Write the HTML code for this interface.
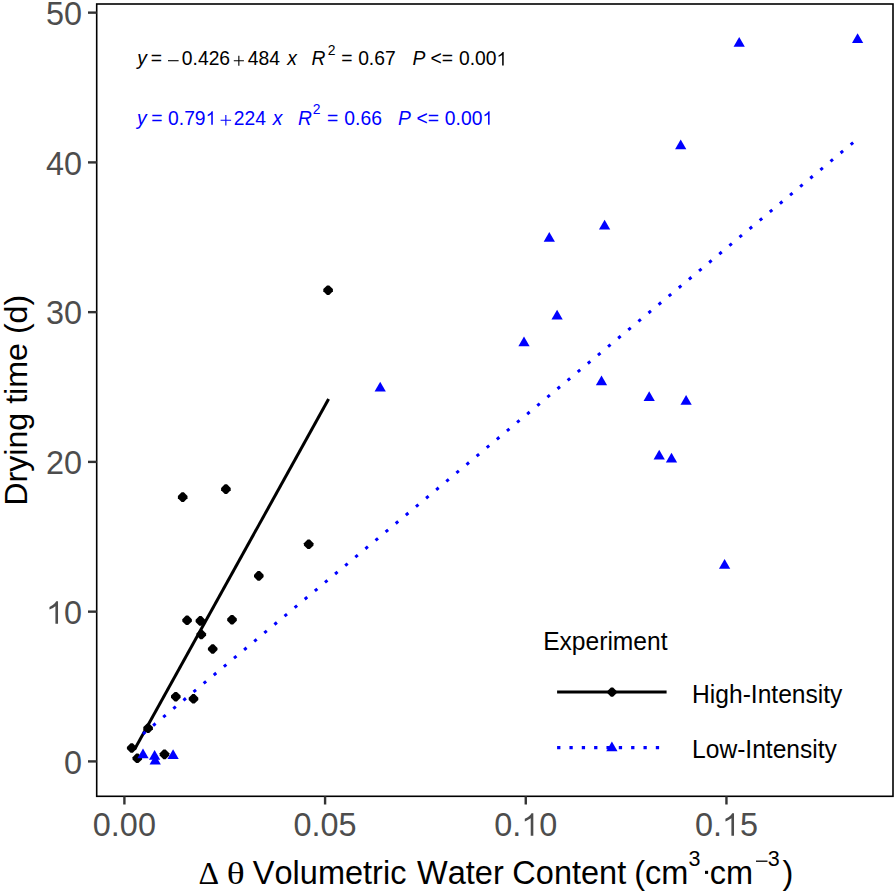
<!DOCTYPE html>
<html><head><meta charset="utf-8"><style>
html,body{margin:0;padding:0;background:#fff;}
svg{display:block;}
text{font-family:"Liberation Sans",sans-serif;font-kerning:none;}
.tk{font-size:32.4px;fill:#4d4d4d;}
.ti{font-size:32.2px;fill:#000;}
</style></head><body>
<svg width="896" height="893" viewBox="0 0 896 893">
<rect x="0" y="0" width="896" height="893" fill="#fff"/>
<path d="M132.80,743.20L136.50,746.90L136.50,749.10L132.80,752.80L130.60,752.80L126.90,749.10L126.90,746.90L130.60,743.20Z" fill="#000"/>
<path d="M138.40,753.50L142.10,757.20L142.10,759.40L138.40,763.10L136.20,763.10L132.50,759.40L132.50,757.20L136.20,753.50Z" fill="#000"/>
<path d="M149.20,723.40L152.90,727.10L152.90,729.30L149.20,733.00L147.00,733.00L143.30,729.30L143.30,727.10L147.00,723.40Z" fill="#000"/>
<path d="M165.60,749.60L169.30,753.30L169.30,755.50L165.60,759.20L163.40,759.20L159.70,755.50L159.70,753.30L163.40,749.60Z" fill="#000"/>
<path d="M176.90,691.90L180.60,695.60L180.60,697.80L176.90,701.50L174.70,701.50L171.00,697.80L171.00,695.60L174.70,691.90Z" fill="#000"/>
<path d="M194.60,694.00L198.30,697.70L198.30,699.90L194.60,703.60L192.40,703.60L188.70,699.90L188.70,697.70L192.40,694.00Z" fill="#000"/>
<path d="M188.20,615.50L191.90,619.20L191.90,621.40L188.20,625.10L186.00,625.10L182.30,621.40L182.30,619.20L186.00,615.50Z" fill="#000"/>
<path d="M201.50,616.10L205.20,619.80L205.20,622.00L201.50,625.70L199.30,625.70L195.60,622.00L195.60,619.80L199.30,616.10Z" fill="#000"/>
<path d="M202.40,629.70L206.10,633.40L206.10,635.60L202.40,639.30L200.20,639.30L196.50,635.60L196.50,633.40L200.20,629.70Z" fill="#000"/>
<path d="M213.80,644.20L217.50,647.90L217.50,650.10L213.80,653.80L211.60,653.80L207.90,650.10L207.90,647.90L211.60,644.20Z" fill="#000"/>
<path d="M233.10,614.90L236.80,618.60L236.80,620.80L233.10,624.50L230.90,624.50L227.20,620.80L227.20,618.60L230.90,614.90Z" fill="#000"/>
<path d="M183.80,492.30L187.50,496.00L187.50,498.20L183.80,501.90L181.60,501.90L177.90,498.20L177.90,496.00L181.60,492.30Z" fill="#000"/>
<path d="M227.00,484.30L230.70,488.00L230.70,490.20L227.00,493.90L224.80,493.90L221.10,490.20L221.10,488.00L224.80,484.30Z" fill="#000"/>
<path d="M259.90,571.10L263.60,574.80L263.60,577.00L259.90,580.70L257.70,580.70L254.00,577.00L254.00,574.80L257.70,571.10Z" fill="#000"/>
<path d="M309.80,539.50L313.50,543.20L313.50,545.40L309.80,549.10L307.60,549.10L303.90,545.40L303.90,543.20L307.60,539.50Z" fill="#000"/>
<path d="M329.20,285.40L332.90,289.10L332.90,291.30L329.20,295.00L327.00,295.00L323.30,291.30L323.30,289.10L327.00,285.40Z" fill="#000"/>
<path d="M143.00,748.50L148.63,758.25L137.37,758.25Z" fill="#00f"/>
<path d="M154.60,750.10L160.23,759.85L148.97,759.85Z" fill="#00f"/>
<path d="M155.20,754.70L160.83,764.45L149.57,764.45Z" fill="#00f"/>
<path d="M173.10,749.30L178.73,759.05L167.47,759.05Z" fill="#00f"/>
<path d="M380.20,381.80L385.83,391.55L374.57,391.55Z" fill="#00f"/>
<path d="M549.30,232.00L554.93,241.75L543.67,241.75Z" fill="#00f"/>
<path d="M604.60,219.70L610.23,229.45L598.97,229.45Z" fill="#00f"/>
<path d="M557.10,309.80L562.73,319.55L551.47,319.55Z" fill="#00f"/>
<path d="M524.00,336.60L529.63,346.35L518.37,346.35Z" fill="#00f"/>
<path d="M601.50,375.40L607.13,385.15L595.87,385.15Z" fill="#00f"/>
<path d="M649.20,391.20L654.83,400.95L643.57,400.95Z" fill="#00f"/>
<path d="M686.10,395.00L691.73,404.75L680.47,404.75Z" fill="#00f"/>
<path d="M659.20,449.80L664.83,459.55L653.57,459.55Z" fill="#00f"/>
<path d="M671.50,452.80L677.13,462.55L665.87,462.55Z" fill="#00f"/>
<path d="M739.20,36.90L744.83,46.65L733.57,46.65Z" fill="#00f"/>
<path d="M680.70,139.40L686.33,149.15L675.07,149.15Z" fill="#00f"/>
<path d="M724.60,559.10L730.23,568.85L718.97,568.85Z" fill="#00f"/>
<path d="M857.60,33.30L863.23,43.05L851.97,43.05Z" fill="#00f"/>
<line x1="134.5" y1="749.54" x2="328.6" y2="399.04" stroke="#000" stroke-width="3.0"/>
<line x1="143.0" y1="733.98" x2="857.6" y2="138.86" stroke="#00f" stroke-width="3.0" stroke-dasharray="3.2 9.957"/>
<rect x="96.7" y="4.0" width="796.30" height="792.30" fill="none" stroke="#000" stroke-width="1.6"/>
<line x1="88" y1="761.40" x2="96.7" y2="761.40" stroke="#333" stroke-width="2.4"/>
<text x="63.98" y="773.60" style="font-family:'Liberation Sans',sans-serif;font-size:32.4px;" fill="#4d4d4d">0</text>
<line x1="88" y1="611.65" x2="96.7" y2="611.65" stroke="#333" stroke-width="2.4"/>
<path transform="translate(45.96,623.85) scale(0.01582,-0.01582)" d="M763,0L598,0L598,1114Q518,1054 465,1024Q412,994 359,964Q306,934 222,903L222,1072Q373,1141 429.5,1191Q486,1240 542.5,1289Q599,1338 646,1430L763,1430Z" fill="#4d4d4d"/><text x="63.98" y="623.85" style="font-family:'Liberation Sans',sans-serif;font-size:32.4px;" fill="#4d4d4d">0</text>
<line x1="88" y1="461.90" x2="96.7" y2="461.90" stroke="#333" stroke-width="2.4"/>
<text x="45.96" y="474.10" style="font-family:'Liberation Sans',sans-serif;font-size:32.4px;" fill="#4d4d4d">20</text>
<line x1="88" y1="312.15" x2="96.7" y2="312.15" stroke="#333" stroke-width="2.4"/>
<text x="45.96" y="324.35" style="font-family:'Liberation Sans',sans-serif;font-size:32.4px;" fill="#4d4d4d">30</text>
<line x1="88" y1="162.40" x2="96.7" y2="162.40" stroke="#333" stroke-width="2.4"/>
<text x="45.96" y="174.60" style="font-family:'Liberation Sans',sans-serif;font-size:32.4px;" fill="#4d4d4d">40</text>
<line x1="88" y1="12.65" x2="96.7" y2="12.65" stroke="#333" stroke-width="2.4"/>
<text x="45.96" y="24.85" style="font-family:'Liberation Sans',sans-serif;font-size:32.4px;" fill="#4d4d4d">50</text>
<line x1="124.40" y1="796.3" x2="124.40" y2="804.5" stroke="#333" stroke-width="2.4"/>
<text x="92.87" y="835.80" style="font-family:'Liberation Sans',sans-serif;font-size:32.4px;" fill="#4d4d4d">0.00</text>
<line x1="325.09" y1="796.3" x2="325.09" y2="804.5" stroke="#333" stroke-width="2.4"/>
<text x="293.56" y="835.80" style="font-family:'Liberation Sans',sans-serif;font-size:32.4px;" fill="#4d4d4d">0.05</text>
<line x1="525.77" y1="796.3" x2="525.77" y2="804.5" stroke="#333" stroke-width="2.4"/>
<text x="494.24" y="835.80" style="font-family:'Liberation Sans',sans-serif;font-size:32.4px;" fill="#4d4d4d">0.</text><path transform="translate(521.26,835.80) scale(0.01582,-0.01582)" d="M763,0L598,0L598,1114Q518,1054 465,1024Q412,994 359,964Q306,934 222,903L222,1072Q373,1141 429.5,1191Q486,1240 542.5,1289Q599,1338 646,1430L763,1430Z" fill="#4d4d4d"/><text x="539.28" y="835.80" style="font-family:'Liberation Sans',sans-serif;font-size:32.4px;" fill="#4d4d4d">0</text>
<line x1="726.45" y1="796.3" x2="726.45" y2="804.5" stroke="#333" stroke-width="2.4"/>
<text x="694.93" y="835.80" style="font-family:'Liberation Sans',sans-serif;font-size:32.4px;" fill="#4d4d4d">0.</text><path transform="translate(721.95,835.80) scale(0.01582,-0.01582)" d="M763,0L598,0L598,1114Q518,1054 465,1024Q412,994 359,964Q306,934 222,903L222,1072Q373,1141 429.5,1191Q486,1240 542.5,1289Q599,1338 646,1430L763,1430Z" fill="#4d4d4d"/><text x="739.97" y="835.80" style="font-family:'Liberation Sans',sans-serif;font-size:32.4px;" fill="#4d4d4d">5</text>
<text transform="translate(26.5,400.3) rotate(-90)" text-anchor="middle" class="ti">Drying time (d)</text>
<text x="198.58" y="884.00" style="font-family:'Liberation Serif',serif;font-size:32px;" fill="#000">Δ</text>
<g transform="translate(228.4,884.0) scale(1.15,1)"><text x="-1.53" y="0.00" style="font-family:'Liberation Serif',serif;font-size:32.6px;" fill="#000">θ</text></g>
<text x="252.86" y="884.00" style="font-family:'Liberation Sans',sans-serif;font-size:32.5px;" fill="#000">Volumetric</text>
<text x="417.06" y="884.00" style="font-family:'Liberation Sans',sans-serif;font-size:32.5px;" fill="#000">Water</text>
<text x="512.35" y="884.00" style="font-family:'Liberation Sans',sans-serif;font-size:32.5px;" fill="#000">Content</text>
<text x="634.18" y="884.00" style="font-family:'Liberation Sans',sans-serif;font-size:32.5px;" fill="#000">(cm</text>
<text x="688.58" y="866.40" style="font-family:'Liberation Sans',sans-serif;font-size:21.5px;" fill="#000">3</text>
<rect x="705.0" y="870.8" width="3.1" height="3.1" fill="#000"/>
<text x="709.82" y="884.00" style="font-family:'Liberation Sans',sans-serif;font-size:32.5px;" fill="#000">cm</text>
<line x1="756.0" y1="861.2" x2="767.5" y2="861.2" stroke="#000" stroke-width="1.3"/>
<text x="767.78" y="866.40" style="font-family:'Liberation Sans',sans-serif;font-size:21.5px;" fill="#000">3</text>
<text x="782.41" y="884.00" style="font-family:'Liberation Sans',sans-serif;font-size:32.5px;" fill="#000">)</text>
<text x="137.19" y="65.40" style="font-family:'Liberation Sans',sans-serif;font-size:19.3px;font-style:italic;" fill="#000">y</text>
<text x="150.86" y="65.40" style="font-family:'Liberation Sans',sans-serif;font-size:19.3px;" fill="#000">=</text>
<text x="181.85" y="65.40" style="font-family:'Liberation Sans',sans-serif;font-size:19.3px;" fill="#000">0.426</text>
<text x="247.76" y="65.40" style="font-family:'Liberation Sans',sans-serif;font-size:19.3px;" fill="#000">484</text>
<text x="287.17" y="65.40" style="font-family:'Liberation Sans',sans-serif;font-size:19.3px;font-style:italic;" fill="#000">x</text>
<text x="311.41" y="65.40" style="font-family:'Liberation Sans',sans-serif;font-size:19.3px;font-style:italic;" fill="#000">R</text>
<text x="327.70" y="54.70" style="font-family:'Liberation Sans',sans-serif;font-size:13.9px;" fill="#000">2</text>
<text x="341.26" y="65.40" style="font-family:'Liberation Sans',sans-serif;font-size:19.3px;" fill="#000">=</text>
<text x="358.15" y="65.40" style="font-family:'Liberation Sans',sans-serif;font-size:19.3px;" fill="#000">0.67</text>
<text x="412.41" y="65.40" style="font-family:'Liberation Sans',sans-serif;font-size:19.3px;font-style:italic;" fill="#000">P</text>
<text x="430.45" y="65.40" style="font-family:'Liberation Sans',sans-serif;font-size:19.3px;" fill="#000">&lt;=</text>
<text x="458.95" y="65.40" style="font-family:'Liberation Sans',sans-serif;font-size:19.3px;" fill="#000">0.00</text><path transform="translate(496.51,65.40) scale(0.00942,-0.00942)" d="M763,0L598,0L598,1114Q518,1054 465,1024Q412,994 359,964Q306,934 222,903L222,1072Q373,1141 429.5,1191Q486,1240 542.5,1289Q599,1338 646,1430L763,1430Z" fill="#000"/>
<line x1="168.0" y1="60.70" x2="178.6" y2="60.70" stroke="#000" stroke-width="1.1"/>
<path d="M233.8,60.80H243.9M238.85,55.75V65.85" stroke="#000" stroke-width="1.1" fill="none"/>
<text x="137.09" y="124.80" style="font-family:'Liberation Sans',sans-serif;font-size:19.3px;font-style:italic;" fill="#00f">y</text>
<text x="151.16" y="124.80" style="font-family:'Liberation Sans',sans-serif;font-size:19.3px;" fill="#00f">=</text>
<text x="168.05" y="124.80" style="font-family:'Liberation Sans',sans-serif;font-size:19.3px;" fill="#00f">0.79</text><path transform="translate(205.61,124.80) scale(0.00942,-0.00942)" d="M763,0L598,0L598,1114Q518,1054 465,1024Q412,994 359,964Q306,934 222,903L222,1072Q373,1141 429.5,1191Q486,1240 542.5,1289Q599,1338 646,1430L763,1430Z" fill="#00f"/>
<text x="233.83" y="124.80" style="font-family:'Liberation Sans',sans-serif;font-size:19.3px;" fill="#00f">224</text>
<text x="272.67" y="124.80" style="font-family:'Liberation Sans',sans-serif;font-size:19.3px;font-style:italic;" fill="#00f">x</text>
<text x="298.11" y="124.80" style="font-family:'Liberation Sans',sans-serif;font-size:19.3px;font-style:italic;" fill="#00f">R</text>
<text x="312.70" y="114.10" style="font-family:'Liberation Sans',sans-serif;font-size:13.9px;" fill="#00f">2</text>
<text x="327.06" y="124.80" style="font-family:'Liberation Sans',sans-serif;font-size:19.3px;" fill="#00f">=</text>
<text x="344.35" y="124.80" style="font-family:'Liberation Sans',sans-serif;font-size:19.3px;" fill="#00f">0.66</text>
<text x="398.11" y="124.80" style="font-family:'Liberation Sans',sans-serif;font-size:19.3px;font-style:italic;" fill="#00f">P</text>
<text x="416.45" y="124.80" style="font-family:'Liberation Sans',sans-serif;font-size:19.3px;" fill="#00f">&lt;=</text>
<text x="444.85" y="124.80" style="font-family:'Liberation Sans',sans-serif;font-size:19.3px;" fill="#00f">0.00</text><path transform="translate(482.41,124.80) scale(0.00942,-0.00942)" d="M763,0L598,0L598,1114Q518,1054 465,1024Q412,994 359,964Q306,934 222,903L222,1072Q373,1141 429.5,1191Q486,1240 542.5,1289Q599,1338 646,1430L763,1430Z" fill="#00f"/>
<path d="M220.6,120.20H231.1M225.85,114.95V125.45" stroke="#00f" stroke-width="1.1" fill="none"/>
<g transform="translate(0,649.6) scale(1,1.04) translate(0,-649.6)"><text x="543.18" y="649.60" style="font-family:'Liberation Sans',sans-serif;font-size:24.6px;" fill="#000">Experiment</text></g>
<line x1="557.1" y1="692.1" x2="666.6" y2="692.1" stroke="#000" stroke-width="3.0"/>
<path d="M613.04,687.54L616.56,691.06L616.56,693.14L613.04,696.66L610.96,696.66L607.44,693.14L607.44,691.06L610.96,687.54Z" fill="#000"/>
<line x1="557.1" y1="747.7" x2="666.6" y2="747.7" stroke="#00f" stroke-width="3.2" stroke-dasharray="3.3 9.04"/>
<path d="M611.90,741.60L617.53,751.35L606.27,751.35Z" fill="#00f"/>
<g transform="translate(0,702.6) scale(1,1.04) translate(0,-702.6)"><text x="692.08" y="702.60" style="font-family:'Liberation Sans',sans-serif;font-size:24.6px;" fill="#000">High-Intensity</text></g>
<g transform="translate(0,758.1) scale(1,1.04) translate(0,-758.1)"><text x="692.08" y="758.10" style="font-family:'Liberation Sans',sans-serif;font-size:24.6px;" fill="#000">Low-Intensity</text></g>
</svg>
</body></html>
